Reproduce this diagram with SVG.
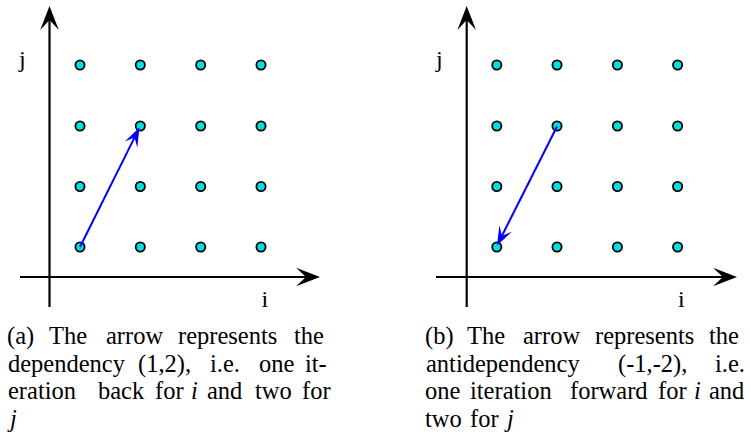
<svg xmlns="http://www.w3.org/2000/svg" width="750" height="441" viewBox="0 0 750 441">
<defs>
<marker id="axisHead" markerUnits="userSpaceOnUse" orient="auto" refX="0" refY="0" markerWidth="30" markerHeight="30" overflow="visible">
<path d="M14,0 L-10,-9.3 L0,0 L-10,9.3 Z" fill="#000"/>
</marker>
<marker id="blueHead" markerUnits="userSpaceOnUse" orient="auto" refX="0" refY="0" markerWidth="30" markerHeight="30" overflow="visible">
<path d="M11,0 L-8,-7 L0,0 L-8,7 Z" fill="#0000ff"/>
</marker>
</defs>
<rect width="750" height="441" fill="#fff"/>
<g id="panel-a">
<g id="axes-a" stroke="#000" stroke-width="2.2" fill="none">
<line x1="49.5" y1="307" x2="49.5" y2="20" marker-end="url(#axisHead)"/>
<line x1="20" y1="277" x2="306" y2="277" marker-end="url(#axisHead)"/>
</g>
<g id="labels-a" font-family="'Liberation Serif'" font-size="24" fill="#000">
<text x="19" y="67">j</text>
<text x="261.5" y="307">i</text>
</g>
<g id="dots-a" fill="#00e0e0" stroke="#000" stroke-width="1.8">
<circle cx="80" cy="65" r="4.6"/><circle cx="140.3" cy="65" r="4.6"/><circle cx="200.7" cy="65" r="4.6"/><circle cx="261" cy="65" r="4.6"/>
<circle cx="80" cy="126" r="4.6"/><circle cx="140.3" cy="126" r="4.6"/><circle cx="200.7" cy="126" r="4.6"/><circle cx="261" cy="126" r="4.6"/>
<circle cx="80" cy="186.5" r="4.6"/><circle cx="140.3" cy="186.5" r="4.6"/><circle cx="200.7" cy="186.5" r="4.6"/><circle cx="261" cy="186.5" r="4.6"/>
<circle cx="80" cy="247" r="4.6"/><circle cx="140.3" cy="247" r="4.6"/><circle cx="200.7" cy="247" r="4.6"/><circle cx="261" cy="247" r="4.6"/>
</g>
<g id="connectors-a" stroke="#0000ff" stroke-width="2" fill="none">
<line x1="80" y1="247" x2="134.6" y2="137.4" marker-end="url(#blueHead)"/>
</g>
<g id="caption-a" font-family="'Liberation Serif'" font-size="24.5" fill="#000">
<text y="344"><tspan x="7">(a)</tspan><tspan x="49">The</tspan><tspan x="106">arrow</tspan><tspan x="178">represents</tspan><tspan x="294">the</tspan></text>
<text y="371.5"><tspan x="8">dependency</tspan><tspan x="138">(1,2),</tspan><tspan x="210">i.e.</tspan><tspan x="259">one</tspan><tspan x="305">it-</tspan></text>
<text y="399"><tspan x="8">eration</tspan><tspan x="98">back</tspan><tspan x="155">for</tspan><tspan font-style="italic" x="191">i</tspan><tspan x="207">and</tspan><tspan x="255">two</tspan><tspan x="302">for</tspan></text>
<text font-style="italic" x="10" y="426.5">j</text>
</g>
</g>
<g id="panel-b">
<g id="axes-b" stroke="#000" stroke-width="2.2" fill="none">
<line x1="466.7" y1="307" x2="466.7" y2="20" marker-end="url(#axisHead)"/>
<line x1="436" y1="277" x2="723" y2="277" marker-end="url(#axisHead)"/>
</g>
<g id="labels-b" font-family="'Liberation Serif'" font-size="24" fill="#000">
<text x="436" y="67">j</text>
<text x="678" y="307">i</text>
</g>
<g id="dots-b" fill="#00e0e0" stroke="#000" stroke-width="1.8">
<circle cx="496.8" cy="65" r="4.6"/><circle cx="557" cy="65" r="4.6"/><circle cx="617.4" cy="65" r="4.6"/><circle cx="677.6" cy="65" r="4.6"/>
<circle cx="496.8" cy="126" r="4.6"/><circle cx="557" cy="126" r="4.6"/><circle cx="617.4" cy="126" r="4.6"/><circle cx="677.6" cy="126" r="4.6"/>
<circle cx="496.8" cy="186.5" r="4.6"/><circle cx="557" cy="186.5" r="4.6"/><circle cx="617.4" cy="186.5" r="4.6"/><circle cx="677.6" cy="186.5" r="4.6"/>
<circle cx="496.8" cy="247" r="4.6"/><circle cx="557" cy="247" r="4.6"/><circle cx="617.4" cy="247" r="4.6"/><circle cx="677.6" cy="247" r="4.6"/>
</g>
<g id="connectors-b" stroke="#0000ff" stroke-width="2" fill="none">
<line x1="557" y1="126.5" x2="502" y2="235.7" marker-end="url(#blueHead)"/>
</g>
<g id="caption-b" font-family="'Liberation Serif'" font-size="24.5" fill="#000">
<text y="344"><tspan x="425">(b)</tspan><tspan x="467">The</tspan><tspan x="523">arrow</tspan><tspan x="595">represents</tspan><tspan x="709">the</tspan></text>
<text y="371.5"><tspan x="426">antidependency</tspan><tspan x="618">(-1,-2),</tspan><tspan x="715">i.e.</tspan></text>
<text y="399"><tspan x="425">one</tspan><tspan x="470">iteration</tspan><tspan x="570">forward</tspan><tspan x="658">for</tspan><tspan font-style="italic" x="694">i</tspan><tspan x="709">and</tspan></text>
<text y="426.5"><tspan x="425">two</tspan><tspan x="470">for</tspan><tspan font-style="italic" x="507">j</tspan></text>
</g>
</g>
</svg>
